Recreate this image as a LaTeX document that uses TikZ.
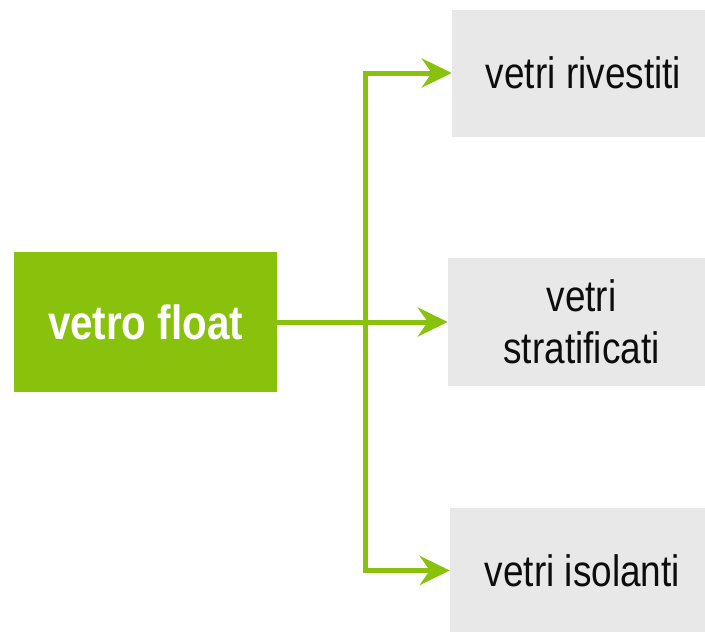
\documentclass[tikz,border=0pt]{standalone}
\usepackage{fontspec}
\setmainfont{Liberation Sans}[FakeStretch=0.84]
\usetikzlibrary{arrows.meta}
\definecolor{floatgreen}{RGB}{137,194,12}
\definecolor{boxgray}{RGB}{232,232,232}
\newcommand{\pad}{\hspace*{10pt}}

\begin{document}
\begin{tikzpicture}[x = 1pt, y = -1pt,
        glassbox/.style = {fill = boxgray, inner sep = 0, align = center, text = black!95,
            font = \fontsize{44}{51.6}\selectfont},
        link/.style = {draw = floatgreen, line width = 5pt,
            -{Stealth[length = 30pt, width = 29pt, inset = 10pt]}}]
    \useasboundingbox (0,0) rectangle (705,632);
    \node[fill = floatgreen, minimum width = 263pt, minimum height = 140pt, inner sep = 0,
        text = white, font = \bfseries\fontsize{48}{56}\selectfont] (float) at (145.5,322) {vetro float};
    \begin{scope}[every node/.append style = {glassbox}]
        \node[minimum width = 253pt, minimum height = 127pt] (rivestiti) at (578.5,73) {\pad vetri rivestiti};
        \node[minimum width = 257pt, minimum height = 128pt] (stratificati) at (576.5,322) {\pad vetri\\\pad stratificati};
        \node[minimum width = 255pt, minimum height = 125pt] (isolanti) at (577.5,570.5) {\pad vetri isolanti};
    \end{scope}
    \coordinate (split) at (365,322);
    \draw[link] (float) -- (stratificati);
    \draw[link] (split) |- (rivestiti);
    \draw[link] (split) |- (isolanti);
\end{tikzpicture}
\end{document}
